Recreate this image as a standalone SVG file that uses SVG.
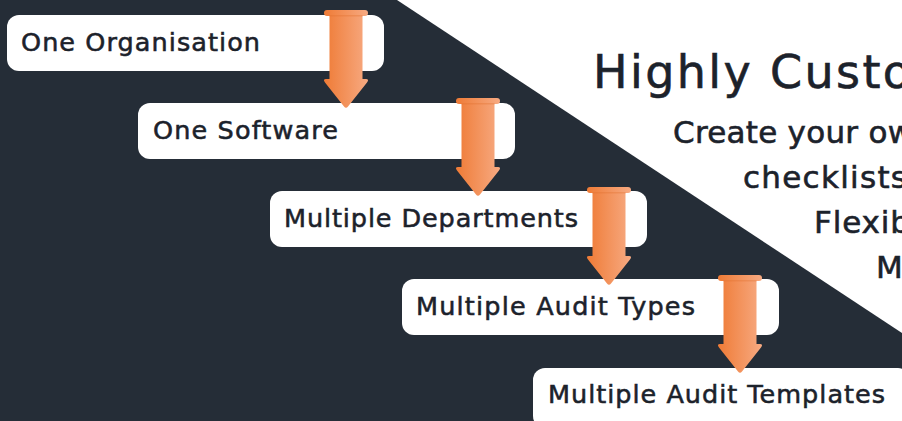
<svg xmlns="http://www.w3.org/2000/svg" xmlns:xlink="http://www.w3.org/1999/xlink" width="902" height="421" viewBox="0 0 902 421">
<defs>
<linearGradient id="og" x1="0" y1="0" x2="1" y2="0">
<stop offset="0" stop-color="#ef7b36"/>
<stop offset="1" stop-color="#f7aa82"/>
</linearGradient>
<g id="arrow">
<path d="M -16.5 2 H 16.5 V 69 H 20 Q 23.5 69 21 72.5 L 2 96.5 Q 0 99 -2 96.5 L -21 72.5 Q -23.5 69 -20 69 H -16.5 Z" fill="url(#og)"/>
<rect x="-22" y="0" width="44" height="6" rx="3" fill="url(#og)"/>
<rect x="-16.5" y="5" width="33" height="1.5" fill="#e0702f" opacity="0.35"/>
</g>
</defs>
<style>
.box{fill:#ffffff;}
.lbl{font-family:"DejaVu Sans",sans-serif;font-size:25.5px;fill:#1c222b;stroke:#1c222b;stroke-width:0.55;}
.rt{font-family:"DejaVu Sans",sans-serif;fill:#1c222b;stroke:#1c222b;stroke-width:0.6;}
</style>
<rect x="0" y="0" width="902" height="421" fill="#ffffff"/>
<polygon points="0,0 397,0 902,333 902,421 0,421" fill="#252d37"/>
<g id="right-text">
<text class="rt" x="593" y="88" font-size="46" textLength="318">Highly Custo</text>
<text class="rt" x="673" y="143" font-size="31" textLength="240">Create your ow</text>
<text class="rt" x="743" y="188" font-size="31" textLength="164">checklists</text>
<text class="rt" x="814" y="233" font-size="31" textLength="96">Flexib</text>
<text class="rt" x="876" y="278" font-size="31">M</text>
</g>
<g id="node1"><rect class="box" x="7" y="15" width="377" height="56" rx="12"/><text class="lbl" x="21" y="51" textLength="239">One Organisation</text></g>
<g id="node2"><rect class="box" x="138" y="103" width="377" height="56" rx="12"/><text class="lbl" x="153" y="139" textLength="185">One Software</text></g>
<g id="node3"><rect class="box" x="270" y="191" width="377" height="56" rx="12"/><text class="lbl" x="284" y="227" textLength="294">Multiple Departments</text></g>
<g id="node4"><rect class="box" x="402" y="279" width="377" height="56" rx="12"/><text class="lbl" x="416" y="315" textLength="279">Multiple Audit Types</text></g>
<g id="node5"><rect class="box" x="533" y="368" width="377" height="60" rx="12"/><text class="lbl" x="548" y="403" textLength="337">Multiple Audit Templates</text></g>
<g id="connectors">
<use xlink:href="#arrow" x="346" y="10"/>
<use xlink:href="#arrow" x="478" y="98"/>
<use xlink:href="#arrow" x="609" y="187"/>
<use xlink:href="#arrow" x="740" y="275"/>
</g>
</svg>
